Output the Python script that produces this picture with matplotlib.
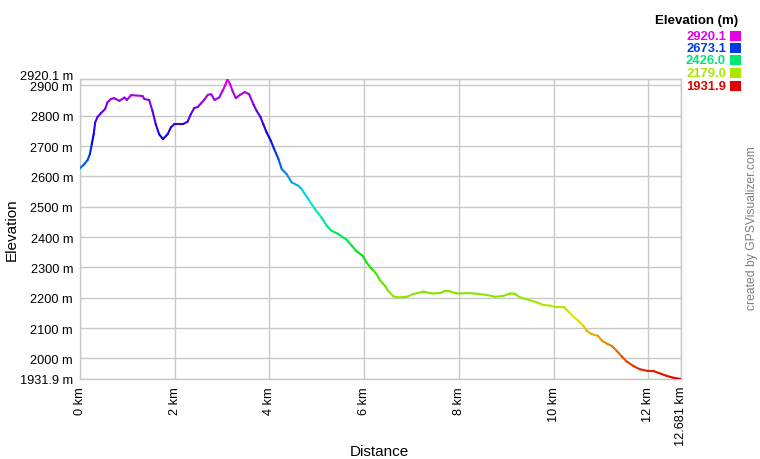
import matplotlib
matplotlib.use('Agg')
import matplotlib.pyplot as plt
from matplotlib.collections import LineCollection
from matplotlib.colors import hsv_to_rgb
from matplotlib.patches import Rectangle
import matplotlib.transforms as mtransforms
import numpy as np

plt.rcParams['font.family'] = ['Liberation Sans', 'DejaVu Sans']

# ---------------- data ----------------
dist_km = [0.00, 0.09, 0.16, 0.21, 0.25, 0.29, 0.32, 0.37, 0.44, 0.53, 0.58, 0.65, 0.72, 0.83,
           0.94, 0.99, 1.08, 1.32, 1.36, 1.46, 1.53, 1.60, 1.67, 1.75, 1.85, 1.92, 1.99, 2.17,
           2.27, 2.34, 2.41, 2.49, 2.55, 2.62, 2.70, 2.77, 2.84, 2.94, 3.01, 3.07, 3.11, 3.17,
           3.22, 3.29, 3.38, 3.48, 3.57, 3.66, 3.73, 3.81, 3.87, 3.94, 4.03, 4.10, 4.19, 4.26,
           4.36, 4.47, 4.61, 4.68, 4.82, 4.96, 5.10, 5.21, 5.31, 5.45, 5.63, 5.74, 5.84, 5.97,
           6.05, 6.16, 6.26, 6.33, 6.44, 6.51, 6.62, 6.72, 6.90, 7.04, 7.25, 7.43, 7.60, 7.71,
           7.81, 7.95, 8.23, 8.38, 8.59, 8.76, 8.94, 9.08, 9.18, 9.29, 9.47, 9.64, 9.78, 9.92,
           10.03, 10.21, 10.31, 10.42, 10.52, 10.63, 10.70, 10.80, 10.94, 11.02, 11.12, 11.23,
           11.33, 11.44, 11.54, 11.68, 11.82, 11.97, 12.11, 12.25, 12.39, 12.53, 12.681]
elev_m = [2627, 2640, 2654, 2674, 2707, 2740, 2778, 2796, 2808, 2822, 2844, 2855, 2858, 2849,
          2860, 2852, 2868, 2865, 2855, 2852, 2816, 2772, 2739, 2723, 2739, 2762, 2772, 2772,
          2780, 2805, 2825, 2829, 2840, 2852, 2869, 2871, 2852, 2860, 2882, 2902, 2920.1, 2904,
          2882, 2858, 2869, 2878, 2871, 2838, 2816, 2796, 2772, 2745, 2717, 2690, 2657, 2624,
          2608, 2580, 2569, 2558, 2525, 2492, 2464, 2437, 2421, 2410, 2391, 2371, 2353, 2338,
          2316, 2295, 2278, 2258, 2239, 2222, 2204, 2201, 2203, 2212, 2220, 2214, 2215, 2222,
          2221, 2214, 2215, 2213, 2209, 2203, 2206, 2214, 2213, 2201, 2193, 2185, 2176, 2174,
          2170, 2170, 2154, 2137, 2124, 2107, 2091, 2080, 2074, 2058, 2049, 2041,
          2025, 2006, 1990, 1975, 1964, 1959, 1958, 1950, 1942, 1936, 1931.9]

x_ticks = [0, 2, 4, 6, 8, 10, 12, 12.681]
x_tick_labels = ['0 km', '2 km', '4 km', '6 km', '8 km', '10 km', '12 km', '12.681 km']
y_ticks = [1931.9, 2000, 2100, 2200, 2300, 2400, 2500, 2600, 2700, 2800, 2900, 2920.1]
y_tick_labels = ['1931.9 m', '2000 m', '2100 m', '2200 m', '2300 m', '2400 m', '2500 m',
                 '2600 m', '2700 m', '2800 m', '2900 m', '2920.1 m']
legend_values = [2920.1, 2673.1, 2426.0, 2179.0, 1931.9]
legend_labels = ['2920.1', '2673.1', '2426.0', '2179.0', '1931.9']

# ---------------- figure ----------------
W, H = 760, 460
fig = plt.figure(figsize=(W / 100, H / 100), dpi=100)
ax = fig.add_axes([80 / W, 1 - 380 / H, (680.6 - 80) / W, (380 - 80.3) / H])

emin, emax = min(elev_m), max(elev_m)


def elev_color(e):
    frac = (e - emin) / (emax - emin)
    return hsv_to_rgb([frac * 300 / 360, 1.0, 0.9])


pts = np.column_stack([dist_km, elev_m])
segs = np.stack([pts[:-1], pts[1:]], axis=1)
mids = (np.array(elev_m[:-1]) + np.array(elev_m[1:])) / 2
colors = [elev_color(m) for m in mids]
lc = LineCollection(segs, colors=colors, linewidths=1.5, capstyle='round', joinstyle='round', zorder=3)
ax.add_collection(lc)

ax.set_xlim(0, 12.681)
ax.set_ylim(emin, emax)
ax.set_xticks(x_ticks)
ax.set_xticklabels(x_tick_labels, rotation=90, fontsize=9.2)
ax.set_yticks(y_ticks)
ax.set_yticklabels(y_tick_labels, fontsize=9.2)
ax.tick_params(length=0, pad=5, colors='black')
ax.grid(True, color='#c8c8c8', linewidth=1)
ax.set_axisbelow(True)
for sp in ax.spines.values():
    sp.set_color('#c8c8c8')
    sp.set_linewidth(1)

# shift top label a little upward
lbl = ax.get_yticklabels()[-1]
lbl.set_transform(lbl.get_transform() + mtransforms.ScaledTranslation(0, 5 / 100, fig.dpi_scale_trans))

fig.text(12 / W, 1 - 230 / H, 'Elevation', rotation=90, ha='center', va='center', fontsize=11)
fig.text(379 / W, 1 - 452 / H, 'Distance', ha='center', va='center', fontsize=11)

# legend
fig.text(738 / W, 1 - 20.7 / H, 'Elevation (m)', ha='right', va='center', fontsize=9.5, fontweight='bold')
ys = [37.3, 49.3, 61.3, 74.0, 87.0]
for v, lab, y in zip(legend_values, legend_labels, ys):
    c = elev_color(v)
    fig.text(726 / W, 1 - y / H, lab, ha='right', va='center', fontsize=9.4, fontweight='bold', color=c)
    fig.patches.append(Rectangle((730 / W, 1 - (y + 5) / H), 10.5 / W, 10 / H,
                                 transform=fig.transFigure, facecolor=c, edgecolor='none'))

fig.text(752 / W, 1 - 228 / H, 'created by GPSVisualizer.com', rotation=90, ha='center', va='center',
         fontsize=8.7, color='#808080')

fig.savefig('out.png', dpi=100)
